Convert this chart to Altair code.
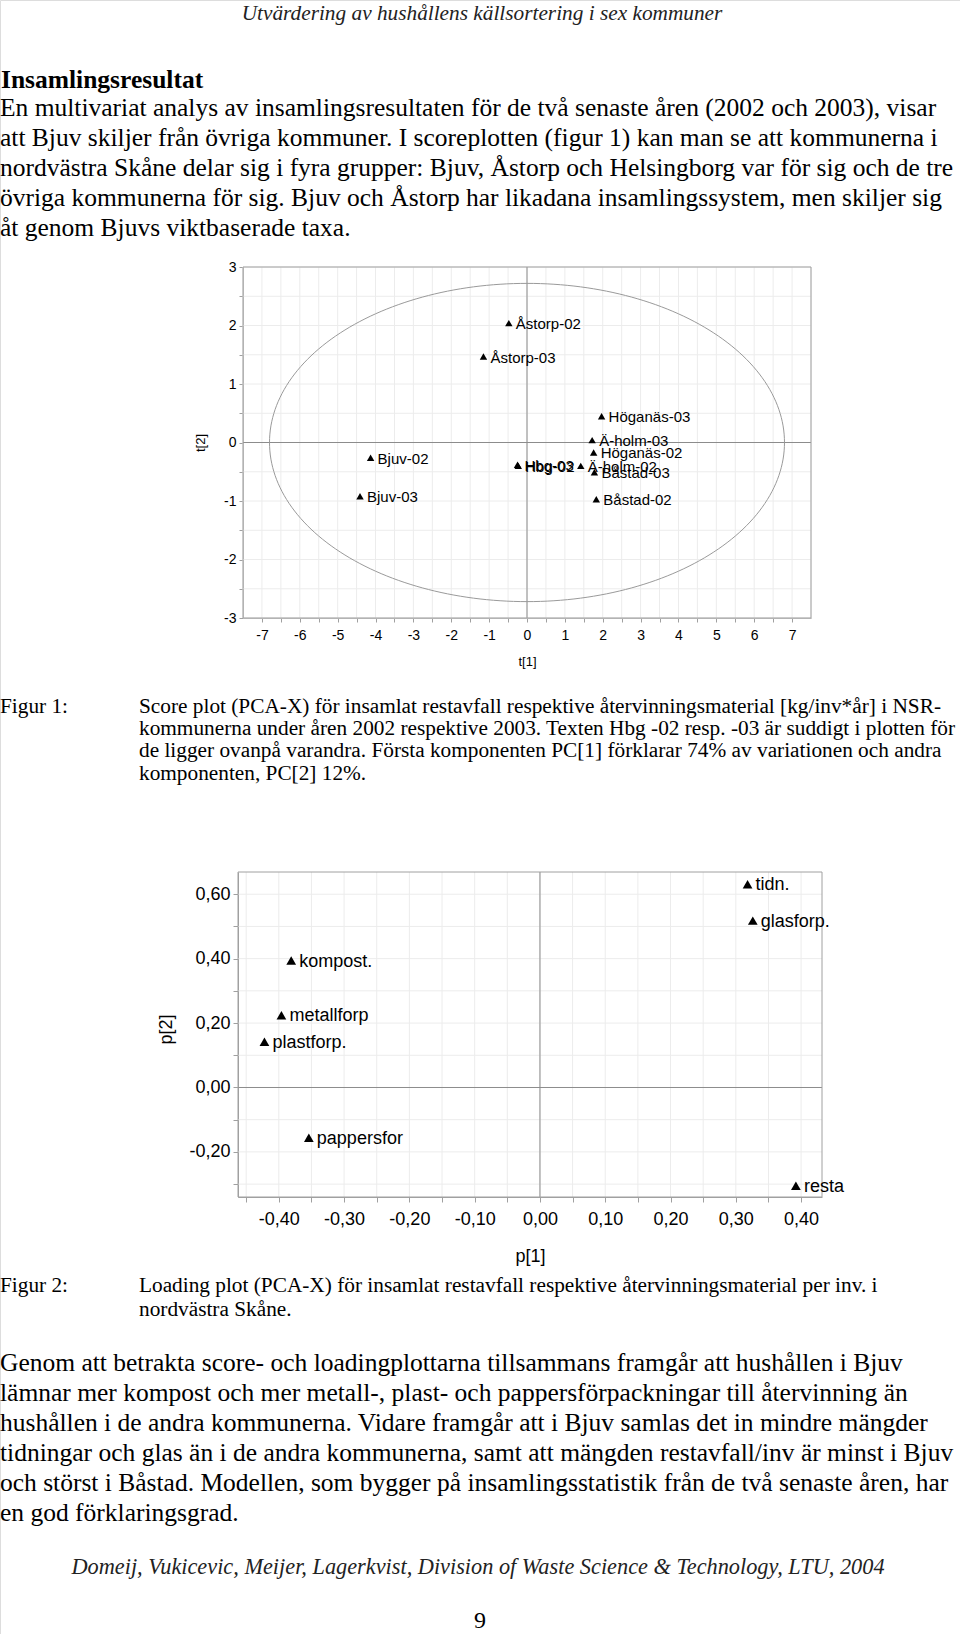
import altair as alt
import numpy as np
import pandas as pd

W, H = 960, 1634

# ---------------- data: score plot (figur 1) ----------------
score_labels = ["Åstorp-02", "Åstorp-03", "Höganäs-03", "Ä-holm-03", "Höganäs-02", "Bjuv-02",
                "Hbg-03", "Hbg-02", "Ä-holm-02", "Båstad-03", "Bjuv-03", "Båstad-02"]
score_t1 = [-0.48, -1.15, 1.97, 1.72, 1.76, -4.13, -0.25, -0.23, 1.42, 1.78, -4.41, 1.83]
score_t2 = [2.04, 1.47, 0.45, 0.04, -0.17, -0.26, -0.38, -0.40, -0.40, -0.51, -0.92, -0.97]
ellipse_axes = [6.8, 2.72]  # Hotelling T2 ellipse semi-axes (t[1], t[2])

# ---------------- data: loading plot (figur 2) ----------------
load_labels = ["tidn.", "glasforp.", "kompost.", "metallforp", "plastforp.", "pappersfor", "resta"]
load_p1 = [0.318, 0.326, -0.381, -0.396, -0.422, -0.354, 0.392]
load_p2 = [0.631, 0.518, 0.394, 0.224, 0.142, -0.156, -0.305]

# tick values
ticks_t1 = [i * 0.5 for i in range(-14, 15)]
grid_t1 = [i * 0.5 for i in range(-15, 16)]
ticks_t2 = [i * 0.5 for i in range(-6, 7)]
ticks_p1 = [round(i * 0.05, 2) for i in range(-9, 9)]
ticks_p2 = [round(i * 0.1, 1) for i in range(-3, 7)]

# ---------------- page text ----------------
header = "Utvärdering av hushållens källsortering i sex kommuner"
heading = "Insamlingsresultat"
para1 = [
    "En multivariat analys av insamlingsresultaten för de två senaste åren (2002 och 2003), visar",
    "att Bjuv skiljer från övriga kommuner. I scoreplotten (figur 1) kan man se att kommunerna i",
    "nordvästra Skåne delar sig i fyra grupper: Bjuv, Åstorp och Helsingborg var för sig och de tre",
    "övriga kommunerna för sig. Bjuv och Åstorp har likadana insamlingssystem, men skiljer sig",
    "åt genom Bjuvs viktbaserade taxa.",
]
cap1_label = "Figur 1:"
cap1 = [
    "Score plot (PCA-X) för insamlat restavfall respektive återvinningsmaterial [kg/inv*år] i NSR-",
    "kommunerna under åren 2002 respektive 2003. Texten Hbg -02 resp. -03 är suddigt i plotten för",
    "de ligger ovanpå varandra. Första komponenten PC[1] förklarar 74% av variationen och andra",
    "komponenten, PC[2] 12%.",
]
cap2_label = "Figur 2:"
cap2 = [
    "Loading plot (PCA-X) för insamlat restavfall respektive återvinningsmaterial per inv. i",
    "nordvästra Skåne.",
]
para2 = [
    "Genom att betrakta score- och loadingplottarna tillsammans framgår att hushållen i Bjuv",
    "lämnar mer kompost och mer metall-, plast- och pappersförpackningar till återvinning än",
    "hushållen i de andra kommunerna. Vidare framgår att i Bjuv samlas det in mindre mängder",
    "tidningar och glas än i de andra kommunerna, samt att mängden restavfall/inv är minst i Bjuv",
    "och störst i Båstad. Modellen, som bygger på insamlingsstatistik från de två senaste åren, har",
    "en god förklaringsgrad.",
]
footer = "Domeij, Vukicevic, Meijer, Lagerkvist, Division of Waste Science & Technology, LTU, 2004"
page_no = "9"

# ---------------- styling ----------------
SERIF = "Liberation Serif"
SANS = "Liberation Sans"
GRID = "#ececec"
AXC = "#a0a0a0"
ZERO = "#8c8c8c"

# pixel frames of the two plots on the page
F1 = dict(x0=243, x1=811, y0=267, y1=618)
F2 = dict(x0=238, x1=822, y0=872, y1=1197)
D1x, D1y = [-7.5, 7.5], [-3, 3]
D2x, D2y = [-0.4625, 0.4320], [-0.340, 0.669]

S1x = alt.Scale(domain=D1x, range=[F1["x0"], F1["x1"]], nice=False, zero=False)
S1y = alt.Scale(domain=D1y, range=[F1["y1"], F1["y0"]], nice=False, zero=False)
S2x = alt.Scale(domain=D2x, range=[F2["x0"], F2["x1"]], nice=False, zero=False)
S2y = alt.Scale(domain=D2y, range=[F2["y1"], F2["y0"]], nice=False, zero=False)

LBL_INT = ("abs(datum.value - round(datum.value)) < 0.001 ? "
           "(datum.value < 0 ? '-' + abs(round(datum.value)) : '' + round(datum.value)) : ''")
LBL_P1 = ("abs(datum.value*10 - round(datum.value*10)) < 0.001 ? "
          "(datum.value < -0.0001 ? '-' : '') + replace(format(abs(datum.value), '.2f'), '.', ',') : ''")
LBL_P2 = ("abs(datum.value*5 - round(datum.value*5)) < 0.001 ? "
          "(datum.value < -0.0001 ? '-' : '') + replace(format(abs(datum.value), '.2f'), '.', ',') : ''")


def axis(orient, offset, values, expr, title, tsize, lsize, pad, tfs, tx, ty):
    return alt.Axis(
        orient=orient, offset=offset, values=values, labelExpr=expr, grid=False,
        domain=True, domainColor=AXC, domainWidth=1, ticks=True, tickColor=AXC,
        tickSize=tsize, labelFont=SANS, labelFontSize=lsize, labelColor="black",
        labelPadding=pad, labelOverlap=False, labelFlush=False, labelBound=False,
        title=title, titleFont=SANS, titleFontSize=tfs, titleFontWeight="normal",
        titleColor="black", titleX=tx, titleY=ty, titleBaseline="middle",
        titleAlign="center", titleAnchor="middle",
    )


def frame_layers(sx, sy, dom_x, dom_y, gx, gy):
    lay = []
    lay.append(alt.Chart(pd.DataFrame({"v": gx})).mark_rule(color=GRID, strokeWidth=1).encode(
        x=alt.X("v:Q", scale=sx, axis=None),
        y=alt.YDatum(dom_y[0], scale=sy, axis=None), y2=alt.Y2Datum(dom_y[1])))
    lay.append(alt.Chart(pd.DataFrame({"v": gy})).mark_rule(color=GRID, strokeWidth=1).encode(
        y=alt.Y("v:Q", scale=sy, axis=None),
        x=alt.XDatum(dom_x[0], scale=sx, axis=None), x2=alt.X2Datum(dom_x[1])))
    lay.append(alt.Chart(pd.DataFrame({"v": [0]})).mark_rule(color=ZERO, strokeWidth=1).encode(
        x=alt.X("v:Q", scale=sx, axis=None),
        y=alt.YDatum(dom_y[0], scale=sy, axis=None), y2=alt.Y2Datum(dom_y[1])))
    lay.append(alt.Chart(pd.DataFrame({"v": [0]})).mark_rule(color=ZERO, strokeWidth=1).encode(
        y=alt.Y("v:Q", scale=sy, axis=None),
        x=alt.XDatum(dom_x[0], scale=sx, axis=None), x2=alt.X2Datum(dom_x[1])))
    lay.append(alt.Chart(pd.DataFrame({"v": [0]})).mark_rect(
        fillOpacity=0, stroke=AXC, strokeWidth=1).encode(
        x=alt.XDatum(dom_x[0], scale=sx, axis=None), x2=alt.X2Datum(dom_x[1]),
        y=alt.YDatum(dom_y[0], scale=sy, axis=None), y2=alt.Y2Datum(dom_y[1])))
    return lay


layers = []

# ---------- figure 1 ----------
layers += frame_layers(S1x, S1y, D1x, D1y, grid_t1, ticks_t2)

theta = np.linspace(0, 2 * np.pi, 241)
ell = pd.DataFrame({"x": ellipse_axes[0] * np.cos(theta), "y": ellipse_axes[1] * np.sin(theta),
                    "i": np.arange(len(theta))})
layers.append(alt.Chart(ell).mark_line(color="#9a9a9a", strokeWidth=1).encode(
    x=alt.X("x:Q", scale=S1x, axis=None), y=alt.Y("y:Q", scale=S1y, axis=None), order="i:Q"))

score = pd.DataFrame({"label": score_labels, "t1": score_t1, "t2": score_t2})
ax1x = axis("bottom", F1["y1"] - H, ticks_t1, LBL_INT, "t[1]", 4, 14, 6, 13,
            (F1["x0"] + F1["x1"]) / 2, 661 - F1["y1"])
ax1y = axis("left", -F1["x0"], ticks_t2, LBL_INT, "t[2]", 4, 14, 3, 13,
            200 - F1["x0"], (F1["y0"] + F1["y1"]) / 2)
layers.append(alt.Chart(score).mark_point(shape="triangle-up", filled=True, size=55,
                                          color="black", opacity=1).encode(
    x=alt.X("t1:Q", scale=S1x, axis=ax1x), y=alt.Y("t2:Q", scale=S1y, axis=ax1y)))
layers.append(alt.Chart(score).mark_text(align="left", baseline="middle", dx=7, dy=1,
                                         font=SANS, fontSize=15, color="black").encode(
    x=alt.X("t1:Q", scale=S1x, axis=None), y=alt.Y("t2:Q", scale=S1y, axis=None), text="label:N"))

# ---------- figure 2 ----------
layers += frame_layers(S2x, S2y, D2x, D2y, ticks_p1, ticks_p2)
load = pd.DataFrame({"label": load_labels, "p1": load_p1, "p2": load_p2})
ax2x = axis("bottom", F2["y1"] - H, ticks_p1, LBL_P1, "p[1]", 5, 18, 8, 18,
            530, 1256 - F2["y1"])
ax2y = axis("left", -F2["x0"], ticks_p2, LBL_P2, "p[2]", 5, 18, 3, 18,
            166 - F2["x0"], 1029)
layers.append(alt.Chart(load).mark_point(shape="triangle-up", filled=True, size=95,
                                         color="black", opacity=1).encode(
    x=alt.X("p1:Q", scale=S2x, axis=ax2x), y=alt.Y("p2:Q", scale=S2y, axis=ax2y)))
layers.append(alt.Chart(load).mark_text(align="left", baseline="middle", dx=8, dy=1,
                                        font=SANS, fontSize=18, color="black").encode(
    x=alt.X("p1:Q", scale=S2x, axis=None), y=alt.Y("p2:Q", scale=S2y, axis=None), text="label:N"))

# ---------- page text ----------
one = pd.DataFrame({"a": [0]})


def txt(text, x, y, size, align="left", style="normal", weight="normal", lh=None, color="black"):
    kw = dict(text=text, align=align, baseline="alphabetic", font=SERIF, fontSize=size,
              fontStyle=style, fontWeight=weight, color=color)
    if lh is not None:
        kw["lineHeight"] = lh
    return alt.Chart(one).mark_text(**kw).encode(x=alt.value(x), y=alt.value(y))


layers += [
    txt(header, 482, 20, 21.3, align="center", style="italic", color="#222"),
    txt(heading, 1, 88.3, 25.5, weight="bold"),
    txt(para1, 0, 116.2, 25.5, lh=29.9),
    txt(cap1_label, 0, 713, 21.3),
    txt(cap1, 139, 713, 21.3, lh=22.2),
    txt(cap2_label, 0, 1292, 21.3),
    txt(cap2, 139, 1292, 21.3, lh=24),
    txt(para2, 0, 1370.5, 25.5, lh=30),
    txt(footer, 478, 1574, 22.3, align="center", style="italic", color="#222"),
    txt(page_no, 480, 1628, 24, align="center"),
]

chart = alt.layer(*layers).resolve_scale(
    x="independent", y="independent"
).resolve_axis(
    x="independent", y="independent"
).properties(
    width=W, height=H, padding=0, autosize=alt.AutoSizeParams(type="none")
).configure_view(strokeWidth=0).configure(background="white")

chart.save("out.html", embed_options={"renderer": "svg", "actions": False})
